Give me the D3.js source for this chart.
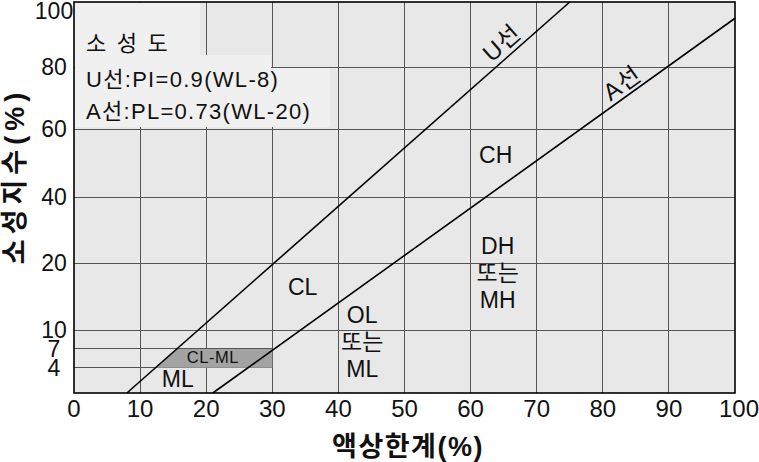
<!DOCTYPE html>
<html>
<head>
<meta charset="utf-8">
<script src="https://cdn.jsdelivr.net/npm/d3@7"></script>
<style>
  html, body { margin: 0; padding: 0; background: #fff; }
  svg { display: block; font-family: "Liberation Sans", "Noto Sans CJK KR", sans-serif; }
</style>
</head>
<body>
<svg id="chart" width="759" height="462"></svg>
<script>
// ---- data ----
const xTicks = [0, 10, 20, 30, 40, 50, 60, 70, 80, 90, 100];
const yTicks = [4, 7, 10, 20, 40, 60, 80, 100];
const yBreaks = [0, 10, 20, 40, 60, 80, 100];        // equally spaced grid steps
const uLine = [[8, 0], [75, 100]];                     // U선 (WL, PI)
const aLine = [[21, 0], [100, 95]];                    // A선 (WL, PI)
const clmlBand = [4, 7];                               // CL-ML band PI range
const clmlMaxWL = 30;
const legendLines = ["소 성 도", "U선:PI=0.9(WL-8)", "A선:PL=0.73(WL-20)"];
const zoneLabels = [
  { lines: ["CH"], wl: 63.8, pi: 52.4 },
  { lines: ["DH", "또는", "MH"], wl: 64.1, pi: 18.5 },
  { lines: ["CL"], wl: 34.6, pi: 16.4 },
  { lines: ["OL", "또는", "ML"], wl: 43.6, pi: 8.1 },
  { lines: ["ML"], wl: 15.7, pi: 2.2 }
];
const xTitle = "액상한계(%)";
const yTitle = "소성지수(%)";

(function () {
// ---- layout ----
const svg = d3.select("#chart");
const L = 74, R = 735, T = 2, B = 393;
const x = d3.scaleLinear().domain([0, 100]).range([L, R]);
const y = d3.scaleLinear().domain(yBreaks).range([393, 330, 263, 197, 129, 67, 2]);

// plot background
svg.append("rect").attr("x", L).attr("y", T).attr("width", R - L).attr("height", B - T)
  .attr("fill", "#e8e8e8");

// grid
const gridColor = "#555";
const g = svg.append("g");
xTicks.filter(t => t > 0 && t < 100).forEach(t => {
  g.append("line").attr("x1", x(t)).attr("x2", x(t)).attr("y1", T).attr("y2", B)
    .attr("stroke", gridColor).attr("stroke-width", 1).attr("shape-rendering", "crispEdges");
});
yTicks.filter(t => t < 100).forEach(t => {
  const xEnd = (t < 10) ? x(clmlMaxWL) : R;
  g.append("line").attr("x1", L).attr("x2", xEnd).attr("y1", y(t)).attr("y2", y(t))
    .attr("stroke", gridColor).attr("stroke-width", 1).attr("shape-rendering", "crispEdges");
});

// legend background (stepped light panel)
const lg = svg.append("g");
[[L + 1, 200, T + 1, 127], [L + 1, 271, 55, 127], [L + 1, 330, 68, 127]].forEach(r => {
  lg.append("rect").attr("x", r[0]).attr("y", r[2]).attr("width", r[1] - r[0]).attr("height", r[3] - r[2])
    .attr("fill", "#f0f0f0");
});

// helpers for straight lines in pixel space
function px(p) { return [x(p[0]), y(p[1])]; }
function xAtPixelY(line, py) {
  const a = px(line[0]), b = px(line[1]);
  return a[0] + (py - a[1]) * (b[0] - a[0]) / (b[1] - a[1]);
}

// CL-ML band
const yHi = y(clmlBand[1]), yLo = y(clmlBand[0]);
svg.append("path")
  .attr("d", d3.line()([[xAtPixelY(uLine, yHi), yHi], [x(clmlMaxWL), yHi], [x(clmlMaxWL), yLo], [xAtPixelY(uLine, yLo), yLo]]) + "Z")
  .attr("fill", "#a3a3a3");

// U and A lines
const lineGen = d3.line().x(d => x(d[0])).y(d => y(d[1]));
[uLine, aLine].forEach(l => {
  svg.append("path").attr("d", lineGen(l)).attr("fill", "none").attr("stroke", "#000").attr("stroke-width", 1.6);
});

// border
svg.append("rect").attr("x", L).attr("y", T).attr("width", R - L).attr("height", B - T)
  .attr("fill", "none").attr("stroke", "#000").attr("stroke-width", 1.6);

// tick labels
xTicks.forEach(t => {
  svg.append("text").attr("x", x(t) + (t === 100 ? 4 : 0)).attr("y", 417).attr("text-anchor", "middle")
    .attr("font-size", 24).attr("fill", "#111").text(t);
});
yTicks.forEach(t => {
  svg.append("text").attr("x", 54).attr("y", Math.max(y(t), 11)).attr("dy", "0.35em").attr("text-anchor", "middle")
    .attr("font-size", 23).attr("fill", "#111").text(t);
});

// axis titles
svg.append("text").attr("x", 408).attr("y", 456).attr("text-anchor", "middle")
  .attr("font-size", 27).attr("font-weight", "bold").attr("letter-spacing", 1.5).attr("fill", "#111").text(xTitle);
svg.append("text").attr("transform", "translate(24,176) rotate(-90)").attr("text-anchor", "middle")
  .attr("font-size", 27).attr("font-weight", "bold").attr("letter-spacing", 5).attr("fill", "#111").text(yTitle);

// legend text
legendLines.forEach((s, i) => {
  svg.append("text").attr("x", 86).attr("y", [51, 87, 119][i])
    .attr("font-size", 22).attr("letter-spacing", i === 0 ? 2.2 : 1.3).attr("fill", "#111").text(s);
});

// zone labels
zoneLabels.forEach(z => {
  const n = z.lines.length;
  z.lines.forEach((s, i) => {
    svg.append("text").attr("x", x(z.wl)).attr("y", y(z.pi) + (i - (n - 1) / 2) * 27)
      .attr("dy", "0.35em").attr("text-anchor", "middle")
      .attr("font-size", 23).attr("fill", "#111").text(s);
  });
});

// CL-ML label
svg.append("text").attr("x", x(21)).attr("y", y(5.6)).attr("dy", "0.35em").attr("text-anchor", "middle")
  .attr("font-size", 16.5).attr("letter-spacing", 0.5).attr("fill", "#111").text("CL-ML");

// rotated line labels
function lineAngle(l) {
  const a = px(l[0]), b = px(l[1]);
  return Math.atan2(b[1] - a[1], b[0] - a[0]) * 180 / Math.PI;
}
[{ t: "U선", wl: 64.7, pi: 87.4, l: uLine }, { t: "A선", wl: 82.9, pi: 74.8, l: aLine }].forEach(d => {
  svg.append("text").attr("transform", `translate(${x(d.wl)},${y(d.pi)}) rotate(${lineAngle(d.l)})`)
    .attr("dy", "0.35em").attr("text-anchor", "middle").attr("font-size", 24).attr("letter-spacing", 1)
    .attr("fill", "#111").text(d.t);
});
})();
</script>
</body>
</html>
